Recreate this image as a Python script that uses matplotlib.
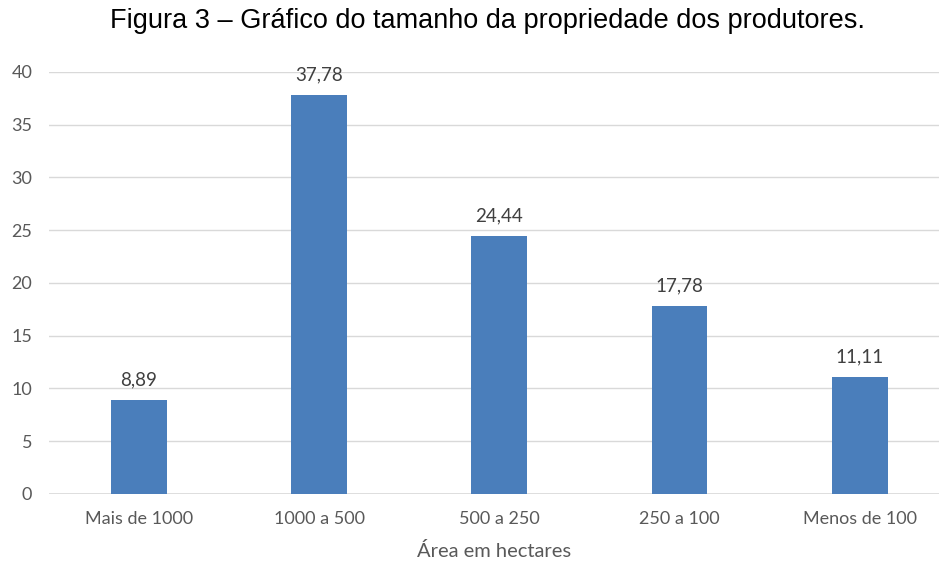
import matplotlib
matplotlib.use('Agg')
import matplotlib.pyplot as plt

categorias = ['Mais de 1000', '1000 a 500', '500 a 250', '250 a 100', 'Menos de 100']
valores = [8.89, 37.78, 24.44, 17.78, 11.11]
rotulos = ['8,89', '37,78', '24,44', '17,78', '11,11']
yticks = [0, 5, 10, 15, 20, 25, 30, 35, 40]

cor_barra = '#4A7EBB'
cor_texto = '#595959'

fig = plt.figure(figsize=(9.39, 5.62), dpi=100)
ax = fig.add_axes([0.052, 0.121, 0.948, 0.751])

x = range(len(categorias))
ax.bar(x, valores, width=0.31, color=cor_barra, zorder=3)
for xi, v, r in zip(x, valores, rotulos):
    ax.text(xi, v + 1.1, r, ha='center', va='bottom', fontsize=13.5,
            color='#404040', family='Lato')

ax.set_xlim(-0.5, 4.44)
ax.set_ylim(0, 40)
ax.set_yticks(yticks)
ax.set_yticklabels([str(t) for t in yticks], family='Lato', fontsize=13, color=cor_texto)
ax.set_xticks(list(x))
ax.set_xticklabels(categorias, family='Lato', fontsize=13, color=cor_texto)
ax.tick_params(axis='both', length=0)
ax.tick_params(axis='x', pad=12)
ax.tick_params(axis='y', pad=12)
ax.grid(axis='y', color='#D9D9D9', linewidth=1, zorder=0)
for s in ax.spines.values():
    s.set_visible(False)
ax.axhline(0, color='#D9D9D9', linewidth=1.2, zorder=2)

ax.set_xlabel('Área em hectares', family='Lato', fontsize=14.5, color=cor_texto, labelpad=11)
fig.text(0.519, 0.962, 'Figura 3 – Gráfico do tamanho da propriedade dos produtores.',
         ha='center', va='center', fontsize=19.5, family='Liberation Sans', color='black')

fig.savefig('out.png', dpi=100)
